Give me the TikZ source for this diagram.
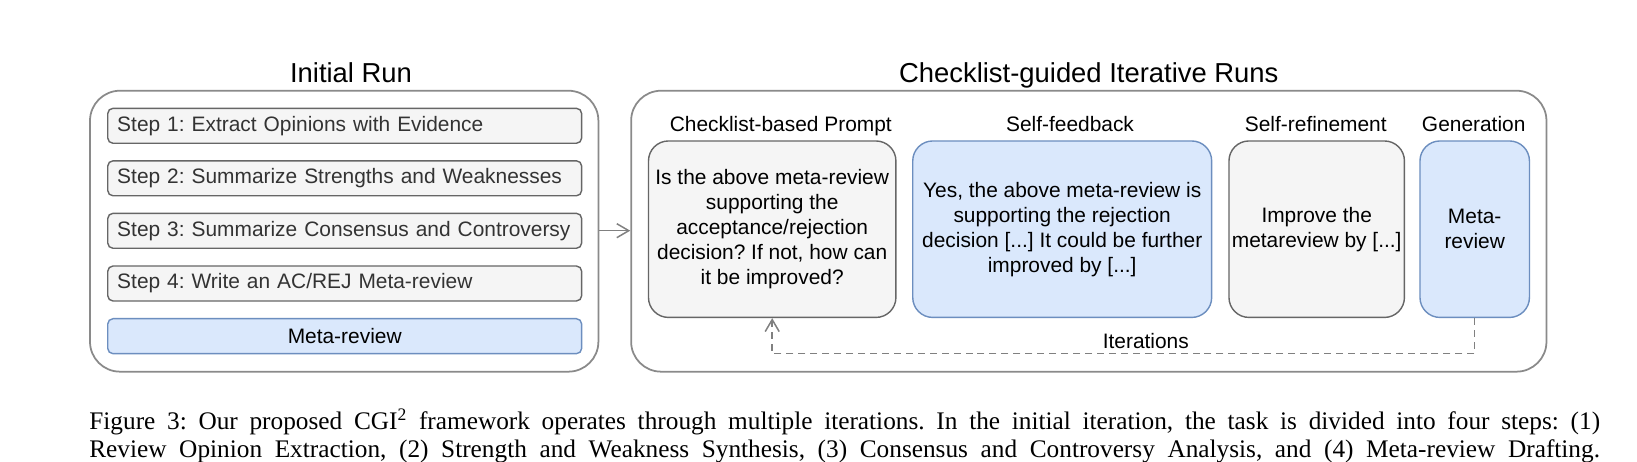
\documentclass[tikz,border=0pt]{standalone}
\usepackage{fontspec}
\setmainfont{Liberation Sans}
\newfontfamily\capfont{Liberation Serif}
\frenchspacing
\usetikzlibrary{arrows.meta, backgrounds}
\definecolor{panelborder}{HTML}{8A8A8A}
\definecolor{stepfill}{HTML}{F5F5F5}
\definecolor{stepborder}{HTML}{666666}
\definecolor{metafill}{HTML}{DAE8FC}
\definecolor{metaborder}{HTML}{6C8EBF}
\definecolor{darkline}{HTML}{333333}
\definecolor{arrowgray}{HTML}{808080}
\tikzset{
  panel/.style={rectangle, rounded corners=0.6cm, fill=white, draw=panelborder, line width=1pt, minimum height=5.62cm},
  stepbox/.style={rectangle, rounded corners=3pt, draw=stepborder, fill=stepfill, line width=0.8pt, minimum height=0.7cm, text width=9.1cm, inner xsep=0.19cm, inner ysep=0pt, align=left, font=\fontsize{11.9}{14}\selectfont, text=darkline},
  metabox/.style={stepbox, fill=metafill, draw=metaborder, align=center, text=black},
  card/.style={rectangle, rounded corners=0.4cm, draw=stepborder, fill=stepfill, line width=0.8pt, minimum height=3.53cm, inner sep=0pt, align=center, font=\fontsize{11.9}{14.2}\selectfont},
  bluecard/.style={card, fill=metafill, draw=metaborder},
  run-title/.style={font=\fontsize{15.6}{18}\selectfont, anchor=base},
  phase-title/.style={font=\fontsize{11.9}{14}\selectfont, anchor=base},
  flow/.style={-{Straight Barb[length=2.4mm, width=2.8mm]}, line width=0.85pt, draw=arrowgray},
  loopback/.style={flow, dash pattern=on 4pt off 2.8pt},
  caption/.style={font=\capfont\fontsize{14.4}{16}\selectfont, anchor=base west, inner sep=0pt}
}

\begin{document}
\begin{tikzpicture}[x=0.02cm, y=-0.02cm]
\useasboundingbox (0,0) rectangle (1637,462);

\begin{pgfonlayer}{background}
  \node[panel, minimum width=10.17cm] (initrun) at (344.2, 231.2) {};
  \node[panel, minimum width=18.31cm] (iterruns) at (1088.8, 231.2) {};
\end{pgfonlayer}

\node[run-title] (inittitle) at (351, 82.7) {Initial Run};
\node[stepbox] (step1) at (344.7, 125.8) {Step 1: Extract Opinions with Evidence};
\node[stepbox] (step2) at (344.7, 178.3) {Step 2: Summarize Strengths and Weaknesses};
\node[stepbox] (step3) at (344.7, 230.8) {Step 3: Summarize Consensus and Controversy};
\node[stepbox] (step4) at (344.7, 283.5) {Step 4: Write an AC/REJ Meta-review};
\node[metabox] (initmeta) at (344.7, 336.2) {Meta-review};

\node[run-title] (itertitle) at (1088.8, 82.7) {Checklist-guided Iterative Runs};
\node[phase-title] at (780.8, 131.7) {Checklist-based Prompt};
\node[card, minimum width=4.95cm] (prompt) at (772.2, 229.2) {Is the above meta-review\\supporting the\\acceptance/rejection\\decision? If not, how can\\it be improved?};

\node[phase-title] at (1070, 131.7) {Self-feedback};
\node[bluecard, minimum width=5.98cm] (feedback) at (1062.2, 229.2) {Yes, the above meta-review is\\supporting the rejection\\decision [...] It could be further\\improved by [...]};

\node[phase-title] at (1315.8, 131.7) {Self-refinement};
\node[card, minimum width=3.51cm] (refine) at (1316.7, 229.2) {Improve the\\metareview by [...]};

\node[phase-title] at (1473.7, 131.7) {Generation};
\node[bluecard, minimum width=2.19cm] (gen) at (1474.7, 229.2) {Meta-\\review};

\node[phase-title] (iterlabel) at (1145.8, 348.3) {Iterations};

\draw[flow] (initrun.east |- 0,230.7) -- (iterruns.west |- 0,230.7);
\draw[loopback] (gen.south) -- (gen.south |- 0,353.6) -| (prompt.south);

\node[caption] (capone) at (89, 430) {\makebox[30.22cm][s]{Figure 3: Our proposed CGI\textsuperscript{2} framework operates through multiple iterations. In the initial iteration, the task is divided into four steps: (1)}};
\node[caption] (captwo) at (89, 458) {\makebox[30.22cm][s]{Review Opinion Extraction, (2) Strength and Weakness Synthesis, (3) Consensus and Controversy Analysis, and (4) Meta-review Drafting.}};

\end{tikzpicture}
\end{document}
